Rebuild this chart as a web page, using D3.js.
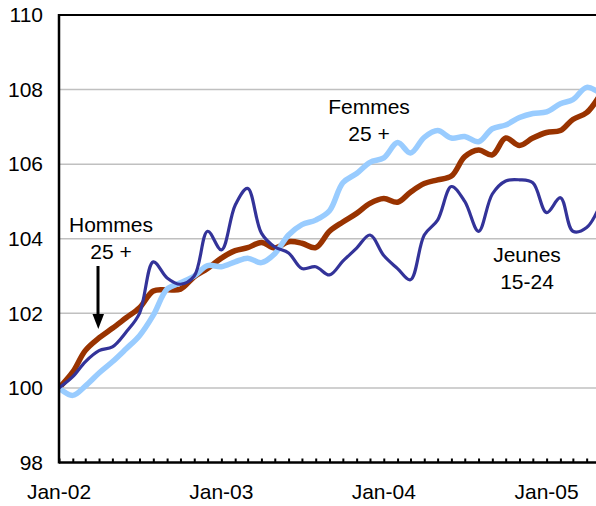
<!DOCTYPE html>
<html>
<head>
<meta charset="utf-8">
<script src="https://cdn.jsdelivr.net/npm/d3@7"></script>
<style>
  body { margin: 0; background: #fff; }
  svg { display: block; font-family: "Liberation Sans", Arial, sans-serif; }
</style>
</head>
<body>
<svg width="596" height="506"></svg>
<script>
// monthly index values, Jan-02 = 100
const months = d3.range(41).map((i) => new Date(2002, i, 1));

const hommes = [100.0, 100.43, 101.0, 101.34, 101.6, 101.88, 102.15, 102.6, 102.63, 102.65,
  102.98, 103.2, 103.48, 103.68, 103.76, 103.9, 103.75, 103.92, 103.88, 103.76,
  104.2, 104.45, 104.68, 104.95, 105.08, 104.98, 105.25, 105.48, 105.58, 105.68,
  106.2, 106.38, 106.25, 106.7, 106.5, 106.7, 106.85, 106.9, 107.2, 107.38, 107.85];

const femmes = [100.0, 99.8, 100.05, 100.4, 100.7, 101.05, 101.4, 101.95, 102.65, 102.82,
  103.0, 103.28, 103.25, 103.38, 103.48, 103.36, 103.6, 104.1, 104.38, 104.5,
  104.75, 105.5, 105.75, 106.05, 106.17, 106.58, 106.3, 106.72, 106.9, 106.7,
  106.74, 106.6, 106.95, 107.05, 107.25, 107.36, 107.4, 107.62, 107.73, 108.06, 107.9];

const jeunes = [100.0, 100.3, 100.7, 101.0, 101.1, 101.5, 102.0, 103.38, 102.95, 102.78,
  103.0, 104.2, 103.7, 104.9, 105.35, 104.15, 103.78, 103.62, 103.2, 103.25,
  103.03, 103.4, 103.75, 104.1, 103.55, 103.2, 102.9, 104.1, 104.5, 105.4,
  105.0, 104.2, 105.2, 105.55, 105.58, 105.5, 104.7, 105.1, 104.2, 104.3, 104.9];

const yTicks = [98, 100, 102, 104, 106, 108, 110];
const xLabels = [new Date(2002, 0, 1), new Date(2003, 0, 1), new Date(2004, 0, 1), new Date(2005, 0, 1)];

const series = [
  { name: 'Hommes', values: hommes, color: '#993300', width: 5.5 },
  { name: 'Femmes', values: femmes, color: '#99ccff', width: 5.5 },
  { name: 'Jeunes', values: jeunes, color: '#333399', width: 3.2 }
];

const svg = d3.select('svg');
const mLeft = 59, mTop = 15, mBottom = 462.5, mRight = 600;

const x = d3.scaleTime()
  .domain([new Date(2002, 0, 1), new Date(2005, 4, 1)])
  .range([mLeft, mRight]);
const y = d3.scaleLinear().domain([98, 110]).range([mBottom, mTop]);

svg.append('defs').append('clipPath').attr('id', 'plot')
  .append('rect').attr('x', mLeft).attr('y', mTop - 5).attr('width', 600).attr('height', mBottom - mTop + 5);

// gridlines
svg.append('g')
  .selectAll('line')
  .data(yTicks.filter((d) => d > 98 && d < 110))
  .enter().append('line')
    .attr('x1', mLeft).attr('x2', 596)
    .attr('y1', (d) => y(d)).attr('y2', (d) => y(d))
    .attr('stroke', '#c0c0c0').attr('stroke-width', 1.5);

// lines
const line = d3.line()
  .x((d, i) => x(months[i]))
  .y((d) => y(d))
  .curve(d3.curveCatmullRom.alpha(0.5));

svg.append('g').attr('clip-path', 'url(#plot)')
  .selectAll('path')
  .data(series)
  .enter().append('path')
    .attr('d', (d) => line(d.values))
    .attr('fill', 'none')
    .attr('stroke', (d) => d.color)
    .attr('stroke-width', (d) => d.width)
    .attr('stroke-linejoin', 'round')
    .attr('stroke-linecap', 'round');

// y axis
const yAxis = svg.append('g')
  .attr('transform', `translate(${mLeft},0)`)
  .call(d3.axisLeft(y).tickValues(yTicks).tickSize(0).tickPadding(16).tickFormat(d3.format('d')));
yAxis.select('.domain').remove();
yAxis.selectAll('text').attr('font-size', 21).attr('fill', '#000').attr('font-family', '"Liberation Sans", Arial, sans-serif');

// x axis: monthly ticks pointing up, labels each January
const xAxis = svg.append('g')
  .attr('transform', `translate(0,${mBottom})`)
  .call(d3.axisBottom(x).ticks(d3.timeMonth.every(1)).tickSizeInner(-4).tickSizeOuter(0).tickFormat(''));
xAxis.select('.domain').remove();
xAxis.selectAll('line').attr('stroke', '#000').attr('stroke-width', 2);

svg.append('g')
  .selectAll('text')
  .data(xLabels)
  .enter().append('text')
    .attr('x', (d) => x(d))
    .attr('y', 499)
    .attr('text-anchor', 'middle')
    .attr('font-size', 21)
    .text((d) => d3.timeFormat('%b-%y')(d));

// frame lines
svg.append('line').attr('x1', mLeft).attr('x2', 596).attr('y1', mBottom).attr('y2', mBottom)
  .attr('stroke', '#000').attr('stroke-width', 2.5);
svg.append('line').attr('x1', mLeft).attr('x2', 596).attr('y1', mTop).attr('y2', mTop)
  .attr('stroke', '#000').attr('stroke-width', 2);
svg.append('line').attr('x1', mLeft).attr('x2', mLeft).attr('y1', mTop - 1).attr('y2', mBottom + 1)
  .attr('stroke', '#000').attr('stroke-width', 2.5);

// annotations
const notes = [
  { lines: ['Hommes', '25 +'], x: 111, y: 232 },
  { lines: ['Femmes', '25 +'], x: 369, y: 114 },
  { lines: ['Jeunes', '15-24'], x: 527, y: 262 }
];
notes.forEach((n) => {
  n.lines.forEach((t, i) => {
    svg.append('text')
      .attr('x', n.x).attr('y', n.y + i * 27)
      .attr('text-anchor', 'middle')
      .attr('font-size', 21)
      .text(t);
  });
});

// arrow under "Hommes 25 +"
svg.append('line').attr('x1', 98).attr('x2', 98).attr('y1', 266).attr('y2', 316)
  .attr('stroke', '#000').attr('stroke-width', 3);
svg.append('path').attr('d', 'M92.5,314 L104,314 L98.3,329 Z').attr('fill', '#000');
</script>
</body>
</html>
